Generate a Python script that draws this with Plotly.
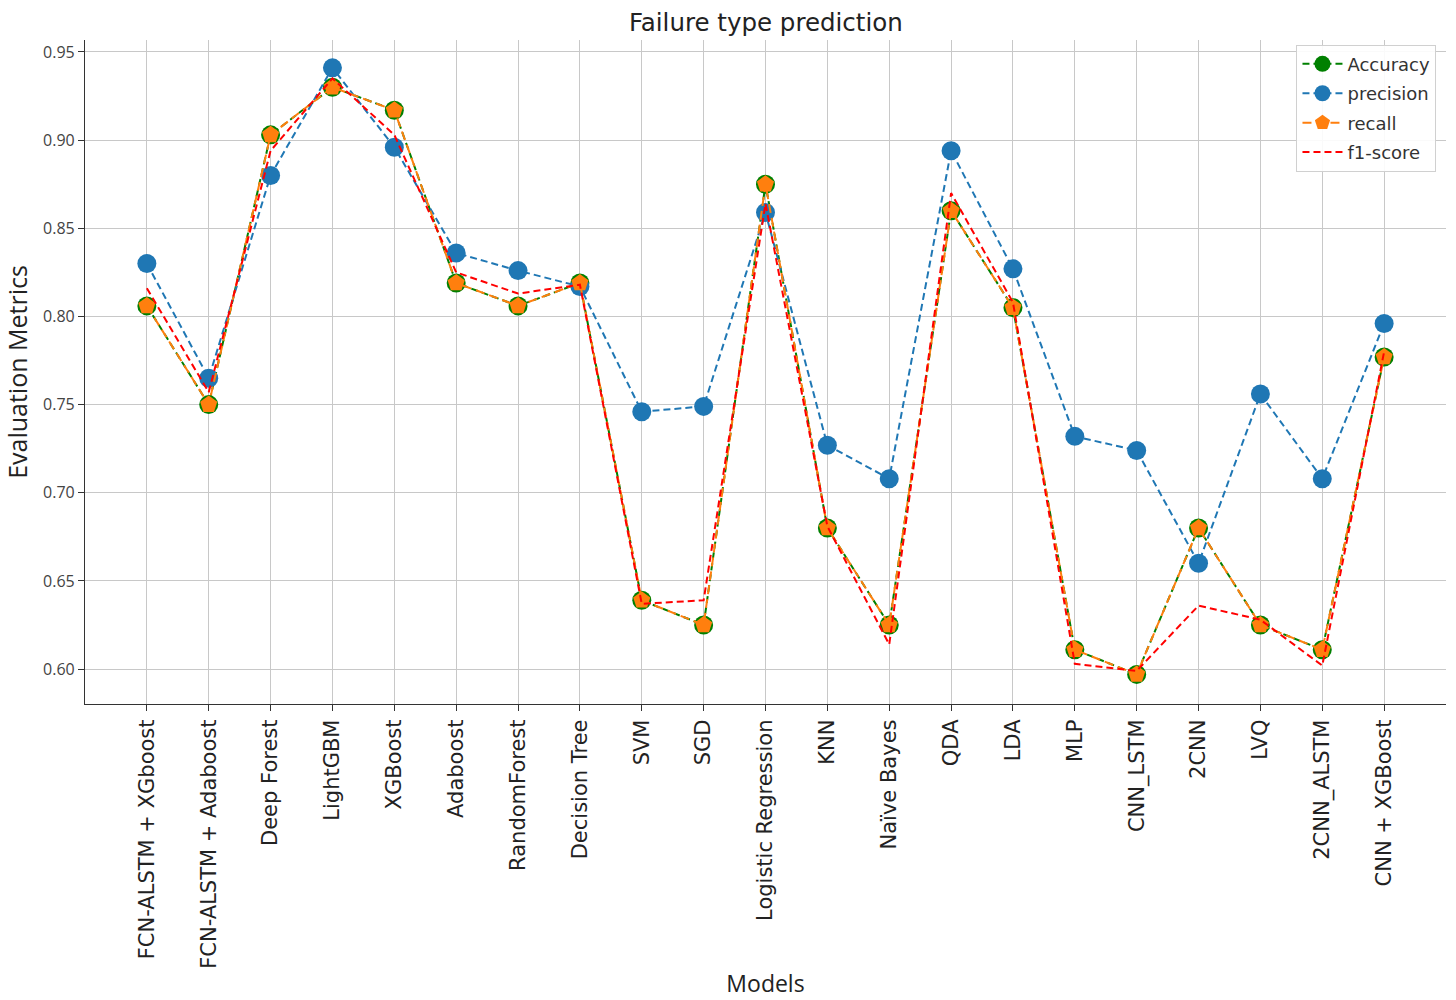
import plotly.graph_objects as go

models = ["FCN-ALSTM + XGboost", "FCN-ALSTM + Adaboost", "Deep Forest", "LightGBM",
          "XGBoost", "Adaboost", "RandomForest", "Decision Tree", "SVM", "SGD",
          "Logistic Regression", "KNN", "Naïve Bayes", "QDA", "LDA", "MLP",
          "CNN_LSTM", "2CNN", "LVQ", "2CNN_ALSTM", "CNN + XGBoost"]

accuracy = [0.806, 0.750, 0.903, 0.930, 0.917, 0.819, 0.806, 0.819, 0.639, 0.625,
            0.875, 0.680, 0.625, 0.860, 0.805, 0.611, 0.597, 0.680, 0.625, 0.611, 0.777]
precision = [0.830, 0.765, 0.880, 0.941, 0.896, 0.836, 0.826, 0.817, 0.746, 0.749,
             0.859, 0.727, 0.708, 0.894, 0.827, 0.732, 0.724, 0.660, 0.756, 0.708, 0.796]
recall = [0.806, 0.750, 0.903, 0.930, 0.917, 0.819, 0.806, 0.819, 0.639, 0.625,
          0.875, 0.680, 0.625, 0.860, 0.805, 0.611, 0.597, 0.680, 0.625, 0.611, 0.777]
f1_score = [0.816, 0.757, 0.894, 0.935, 0.903, 0.825, 0.813, 0.818, 0.637, 0.639,
            0.864, 0.681, 0.614, 0.870, 0.808, 0.603, 0.599, 0.636, 0.628, 0.602, 0.780]

y_ticks = [0.60, 0.65, 0.70, 0.75, 0.80, 0.85, 0.90, 0.95]

FONT = "DejaVu Sans"
LABEL_FONT = "Open Sans"

fig = go.Figure()

fig.add_trace(go.Scatter(
    x=models, y=accuracy, name="Accuracy", mode="lines+markers", legendgroup="acc",
    line=dict(color="green", width=2, dash="7px,4px"),
    marker=dict(symbol="circle", size=19, color="green"),
))
fig.add_trace(go.Scatter(
    x=models, y=precision, name="precision", mode="lines+markers", legendgroup="prec",
    line=dict(color="#1f77b4", width=2, dash="7px,4px"),
    marker=dict(symbol="circle", size=19, color="#1f77b4"),
))
fig.add_trace(go.Scatter(
    x=models, y=recall, name="recall", mode="lines+markers", legendgroup="rec",
    line=dict(color="#ff7f0e", width=2, dash="9px,5px"),
    marker=dict(symbol="pentagon", size=18, color="#ff7f0e"),
))
fig.add_trace(go.Scatter(
    x=models, y=f1_score, name="f1-score", mode="lines", legendgroup="f1",
    line=dict(color="red", width=2, dash="7px,4px"),
))

fig.update_layout(
    width=1456, height=1000,
    margin=dict(l=85, r=10, t=40, b=296, autoexpand=False),
    paper_bgcolor="white", plot_bgcolor="white",
    font=dict(family=FONT, color="#222222"),
    title=dict(text="Failure type prediction", x=0.526, xanchor="center",
               y=0.978, yanchor="middle", font=dict(size=24.5, color="#222222")),
    showlegend=True,
    legend=dict(x=0.993, y=0.993, xanchor="right", yanchor="top",
                bgcolor="rgba(255,255,255,0.9)", bordercolor="#d0d0d0", borderwidth=1,
                font=dict(size=18, color="#333333"), itemwidth=40,
                tracegroupgap=3),
)

fig.update_xaxes(
    type="category", range=[-1, 21],
    showgrid=True, gridcolor="#c8c8c8", gridwidth=1,
    showline=True, linecolor="#333333", linewidth=1.2, mirror=False,
    ticks="outside", ticklen=6, tickcolor="#333333",
    tickangle=-90, tickfont=dict(size=21, color="#222222"),
    title=dict(text="Models", font=dict(family=LABEL_FONT, size=23, color="#222222"),
               standoff=8),
    zeroline=False, automargin=False,
)
fig.update_yaxes(
    range=[0.5802, 0.9568],
    tickvals=y_ticks, tickformat=".2f",
    showgrid=True, gridcolor="#c8c8c8", gridwidth=1,
    showline=True, linecolor="#333333", linewidth=1.2, mirror=False,
    ticks="outside", ticklen=6, tickcolor="#333333",
    tickfont=dict(family=LABEL_FONT, size=16, color="#444444"),
    title=dict(text="Evaluation Metrics", font=dict(family=LABEL_FONT, size=25, color="#222222"),
               standoff=8),
    zeroline=False, automargin=False,
)

fig.write_html("out.html")
